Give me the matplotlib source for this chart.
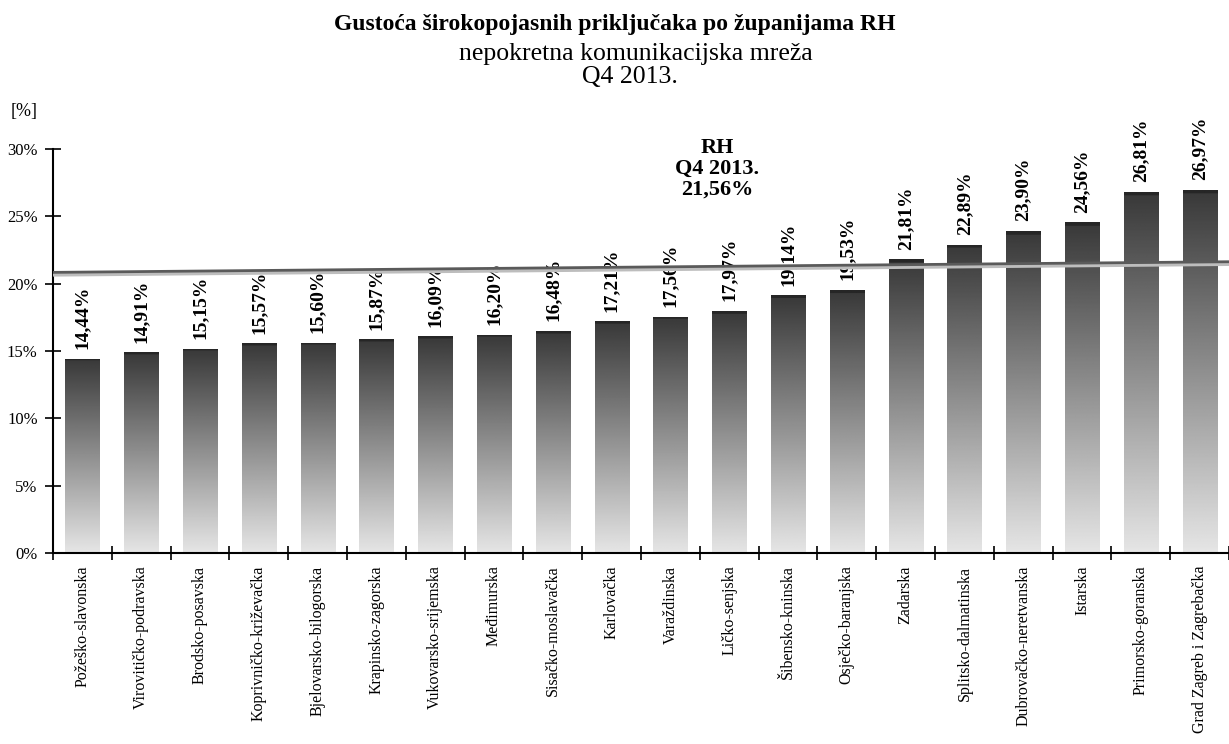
import numpy as np
import matplotlib
matplotlib.use('Agg')
import matplotlib.pyplot as plt
from matplotlib.transforms import offset_copy

plt.rcParams['font.family'] = ['Liberation Serif', 'DejaVu Serif']

# podaci
zupanije = ['Požeško-slavonska', 'Virovitičko-podravska', 'Brodsko-posavska',
            'Koprivničko-križevačka', 'Bjelovarsko-bilogorska', 'Krapinsko-zagorska',
            'Vukovarsko-srijemska', 'Međimurska', 'Sisačko-moslavačka', 'Karlovačka',
            'Varaždinska', 'Ličko-senjska', 'Šibensko-kninska', 'Osječko-baranjska',
            'Zadarska', 'Splitsko-dalmatinska', 'Dubrovačko-neretvanska', 'Istarska',
            'Primorsko-goranska', 'Grad Zagreb i Zagrebačka']
gustoca = [14.44, 14.91, 15.15, 15.57, 15.60, 15.87, 16.09, 16.20, 16.48, 17.21,
           17.56, 17.97, 19.14, 19.53, 21.81, 22.89, 23.90, 24.56, 26.81, 26.97]
rh_prosjek = 21.56
rh_linija = [20.84, 21.63]   # linija prosjeka, malo nagnuta kao na slici
y_ticks = [0, 5, 10, 15, 20, 25, 30]

fig = plt.figure(figsize=(12.29, 7.44), dpi=100)
ax = fig.add_axes([0.0431, 0.2567, 0.9569, 0.543])

x = np.arange(len(zupanije))
bars = ax.bar(x, gustoca, width=0.58, color='none', edgecolor='none', zorder=2)

# gradijent u svakom stupcu: tamno gore, svijetlo dolje
grad = np.linspace(0.22, 0.9, 256).reshape(-1, 1)
grad[:3] = 0.15
for b in bars:
    im = ax.imshow(grad, cmap='gray', vmin=0, vmax=1, aspect='auto',
                   extent=[b.get_x(), b.get_x() + b.get_width(), 0, b.get_height()],
                   zorder=2, interpolation='bilinear')
    im.set_clip_path(b)

for xi, v in zip(x, gustoca):
    ax.annotate(f'{v:.2f}%'.replace('.', ','), (xi, v), xytext=(0, 7),
                textcoords='offset points', rotation=90, ha='center', va='bottom',
                fontsize=14, fontweight='bold', zorder=3)

# linija prosjeka RH sa sjenom
xl = [-0.5, len(zupanije) - 0.5]
sjena = offset_copy(ax.transData, fig=fig, x=0, y=-2.5, units='dots')
ax.plot(xl, rh_linija, color='#bdbdbd', lw=2.5, transform=sjena, zorder=4,
        solid_capstyle='butt')
ax.plot(xl, rh_linija, color='#5a5a5a', lw=2, zorder=5, solid_capstyle='butt')

ax.text(10.8, 28.5, 'RH\nQ4 2013.\n' + f'{rh_prosjek:.2f}%'.replace('.', ','),
        ha='center', va='center', fontsize=16, fontweight='bold', linespacing=1.05)

ax.set_xlim(-0.5, len(zupanije) - 0.5)
ax.set_ylim(0, 30)
ax.set_yticks(y_ticks)
ax.set_yticklabels([f'{t}%' for t in y_ticks])
ax.set_xticks(x)
ax.set_xticklabels(zupanije, rotation=90, fontsize=11.5)
ax.set_xticks(np.arange(len(zupanije) + 1) - 0.5, minor=True)
ax.tick_params(axis='x', which='major', length=0, pad=9)
ax.tick_params(axis='x', which='minor', direction='inout', length=10, width=1.2)
ax.tick_params(axis='y', direction='inout', length=12, width=1.2, labelsize=12, pad=5)

for s in ['top', 'right']:
    ax.spines[s].set_visible(False)
for s in ['left', 'bottom']:
    ax.spines[s].set_linewidth(1.5)

fig.text(0.5, 0.96, 'Gustoća širokopojasnih priključaka po županijama RH',
         ha='center', va='baseline', fontsize=17, fontweight='bold')
fig.text(0.5175, 0.919, 'nepokretna komunikacijska mreža', ha='center', va='baseline',
         fontsize=18.5)
fig.text(0.5126, 0.889, 'Q4 2013.', ha='center', va='baseline', fontsize=18.5)
fig.text(0.02, 0.85, '[%]', ha='center', va='center', fontsize=13)

fig.savefig('out.png', dpi=100)
